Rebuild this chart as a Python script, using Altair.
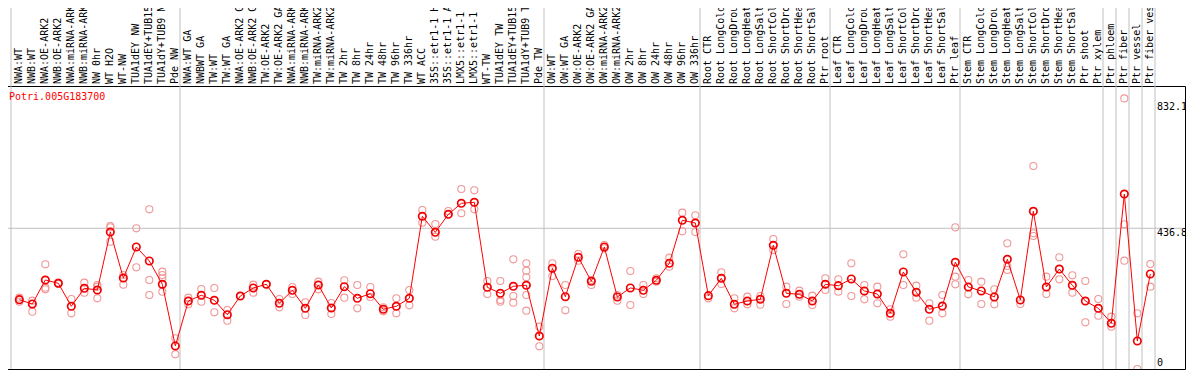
import altair as alt
import pandas as pd

gene = "Potri.005G183700"

samples = [
    "NWA:WT", "NWB:WT", "NWA:OE-ARK2", "NWB:OE-ARK2", "NWA:miRNA-ARK2", "NWB:miRNA-ARK2",
    "NW 0hr", "WT H2O", "WT-NW", "TUA1dEY NW", "TUA1dEY+TUB15", "TUA1dY+TUB9 NW", "Pde NW",
    "NWA:WT GA", "NWBWT GA", "TW:WT", "TW:WT GA", "NWA:OE-ARK2 GA", "NWB:OE-ARK2 GA",
    "TW:OE-ARK2", "TW:OE-ARK2 GA", "NWA:miRNA-ARK2", "NWB:miRNA-ARK2", "TW:miRNA-ARK2",
    "TW:miRNA-ARK2", "TW 2hr", "TW 8hr", "TW 24hr", "TW 48hr", "TW 96hr", "TW 336hr",
    "WT ACC", "35S::etr1-1 H2O", "35S::etr1-1 ACC", "LMX5::etr1-1 H2O", "LMX5::etr1-1 ACC",
    "WT-TW", "TUA1dEY TW", "TUA1dEY+TUB15", "TUA1dY+TUB9 TW", "Pde TW",
    "OW:WT", "OW:WT GA", "OW:OE-ARK2", "OW:OE-ARK2 GA", "OW:miRNA-ARK2", "OW:miRNA-ARK2",
    "OW 2hr", "OW 8hr", "OW 24hr", "OW 48hr", "OW 96hr", "OW 336hr",
    "Root CTR", "Root LongCold", "Root LongDrought", "Root LongHeat", "Root LongSalt",
    "Root ShortCold", "Root ShortDrought", "Root ShortHeat", "Root ShortSalt", "Ptr root",
    "Leaf CTR", "Leaf LongCold", "Leaf LongDrought", "Leaf LongHeat", "Leaf LongSalt",
    "Leaf ShortCold", "Leaf ShortDrought", "Leaf ShortHeat", "Leaf ShortSalt", "Ptr leaf",
    "Stem CTR", "Stem LongCold", "Stem LongDrought", "Stem LongHeat", "Stem LongSalt",
    "Stem ShortCold", "Stem ShortDrought", "Stem ShortHeat", "Stem ShortSalt", "Ptr shoot",
    "Ptr xylem", "Ptr phloem", "Ptr fiber", "Ptr vessel", "Ptr fiber vessel",
]

means = [
    219.5, 206.4, 279.4, 269.4, 199.4, 254.2, 249.0, 425.5, 285.5, 379.9,
    337.3, 266.4, 78.6, 215.5, 232.9, 217.7, 173.8, 230.7, 255.1, 266.4,
    208.5, 248.1, 193.3, 264.2, 194.2, 259.0, 223.7, 237.7, 190.3, 199.4,
    223.7, 473.3, 424.6, 479.4, 512.8, 515.9, 257.2, 239.0, 260.3, 263.3,
    109.0, 315.1, 228.6, 348.5, 275.5, 379.9, 227.7, 255.1, 248.1, 278.5,
    330.3, 461.1, 452.9, 231.7, 284.6, 205.5, 215.5, 220.7, 385.0, 239.0,
    235.9, 215.5, 266.4, 262.1, 282.5, 246.0, 236.8, 178.1, 303.8, 242.0,
    190.3, 200.3, 333.3, 258.1, 246.0, 227.7, 342.4, 218.6, 488.5, 258.1,
    312.9, 263.3, 215.5, 193.3, 147.7, 541.1, 93.8, 297.7,
]

replicates = [
    [225.6, 213.4], [216.5, 183.0, 206.3], [327.1, 256.1, 251.0], [271.3, 267.2],
    [221.6, 178.0], [271.3, 240.8], [264.2, 223.6, 259.1], [443.7, 396.0, 439.7],
    [294.6, 265.2], [436.6, 317.9],
    [494.4, 279.4, 233.7], [304.7, 294.6, 284.5, 243.9], [101.9, 53.2], [225.6, 205.3],
    [252.0, 213.4], [255.0, 181.0], [188.1, 155.6], [230.7], [265.2, 240.8], [266.2],
    [221.6, 196.2], [258.1, 236.8], [211.4, 172.9], [274.3, 251.0], [209.4, 175.9],
    [278.4, 225.6], [264.2, 193.2], [258.1, 227.6], [196.2, 184.0], [223.6, 178.0],
    [249.0, 202.3], [492.4, 453.9], [449.8, 411.3], [489.4, 479.2], [556.3, 482.3],
    [552.3, 494.4], [276.3, 236.8], [276.3, 218.5, 213.4], [342.3, 230.7, 210.4],
    [330.1, 307.8, 287.5, 233.7, 186.1],
    [137.4, 77.5], [330.1, 291.6], [264.2, 187.1], [358.5, 338.2], [279.4, 264.2],
    [385.9, 375.8], [233.7, 216.5], [306.8, 203.3], [264.2, 236.8], [284.5, 274.3],
    [347.3, 320.0], [484.3, 427.5], [476.2, 425.5], [223.6], [302.7, 267.2],
    [223.6, 193.2], [228.7, 205.3], [230.7, 204.3], [404.2, 370.7], [259.1, 206.3],
    [246.9, 228.7], [231.7, 203.3], [284.5, 249.0], [281.4, 243.9], [330.1, 230.7],
    [264.2, 220.5], [259.1, 208.4], [190.1, 167.8], [357.5, 264.2], [262.1, 225.6],
    [208.4, 155.6], [233.7, 178.0], [439.7, 289.5, 266.2], [279.4, 235.8], [274.3, 206.3],
    [251.0, 205.3], [391.0, 322.0, 309.8], [206.3], [626.3, 421.4, 413.3], [289.5, 236.8],
    [348.4, 281.4], [293.6, 240.8], [276.3, 150.6], [221.6, 170.8], [167.8, 137.4],
    [832.1, 448.8, 338.2], [178.0, 8.5], [328.1, 259.1],
]

# index of the last sample of each group (-1 = before the first sample)
group_ends = [-1, 12, 40, 52, 62, 72, 83, 84, 85, 86, 87]
y_ticks = [0, 436.8, 832.1]
y_tick_labels = ["0", "436.8", "832.1"]
grid_values = [436.8]

FONT = "DejaVu Sans Mono"
W, H = 1183, 283
STEP = 13.0
X0 = -1.333

idx = list(range(len(samples)))
mean_df = pd.DataFrame({"i": idx, "sample": samples, "mean": means})
rep_df = pd.DataFrame(
    [{"i": i, "value": v} for i, vals in enumerate(replicates) for v in vals]
)
sep_df = pd.DataFrame({"pos": [g + 0.36 for g in group_ends]})
grid_df = pd.DataFrame({"v": grid_values})
ytick_df = pd.DataFrame({"k": list(range(len(y_ticks))), "v": y_ticks, "label": y_tick_labels})
title_df = pd.DataFrame({"t": [gene]})

x_scale = alt.Scale(domain=[X0, X0 + W / STEP], nice=False, zero=False)
y_scale = alt.Scale(domain=[0, 869.8], range=[H + 2.8, 0], nice=False, zero=False)

X_I = alt.X("i:Q", scale=x_scale, axis=None)

seps = alt.Chart(sep_df).mark_rule(color="#c0c0c0", strokeWidth=1).encode(
    x=alt.X("pos:Q", scale=x_scale, axis=None),
    y=alt.value(-86), y2=alt.value(H),
)
grid = alt.Chart(grid_df).mark_rule(color="#c0c0c0", strokeWidth=1).encode(
    y=alt.Y("v:Q", scale=y_scale, axis=None),
)
reps = alt.Chart(rep_df).mark_point(
    shape="circle", filled=False, size=50, color="#f09898", strokeWidth=1.1,
    opacity=1, clip=True,
).encode(x=X_I, y=alt.Y("value:Q", scale=y_scale, axis=None))
line = alt.Chart(mean_df).mark_line(color="#ff0000", strokeWidth=1).encode(
    x=X_I, y=alt.Y("mean:Q", scale=y_scale, axis=None),
)
mean_pts = alt.Chart(mean_df).mark_point(
    shape="circle", filled=False, size=55, color="#f00000", strokeWidth=1.7, opacity=1,
).encode(x=X_I, y=alt.Y("mean:Q", scale=y_scale, axis=None))

header = alt.Chart(mean_df).mark_text(
    angle=270, align="left", baseline="middle", font=FONT, fontSize=10, color="black",
).encode(x=X_I, y=alt.value(-2), text="sample:N")

def ylab(k, baseline, dy):
    return alt.Chart(ytick_df).transform_filter(f"datum.k == {k}").mark_text(
        align="left", baseline=baseline, dy=dy, font=FONT, fontSize=10, color="black",
    ).encode(
        x=alt.value(W - 28),
        y=alt.Y("v:Q", scale=y_scale, axis=None),
        text="label:N",
    )

ylabels = [ylab(0, "bottom", -4), ylab(1, "top", 0), ylab(2, "top", 4)]

title = alt.Chart(title_df).mark_text(
    align="left", baseline="middle", font=FONT, fontSize=10, color="#ff0000",
).encode(x=alt.value(7), y=alt.value(11), text="t:N")

chart = alt.layer(seps, grid, reps, line, mean_pts, header, *ylabels, title).properties(
    width=W, height=H,
    autosize=alt.AutoSizeParams(type="none"),
    padding={"left": -6, "top": 78, "right": 1, "bottom": 1},
    background="white",
).configure_view(stroke="black", strokeWidth=1)

chart.save("out.html", embed_options={"renderer": "svg", "actions": False})
